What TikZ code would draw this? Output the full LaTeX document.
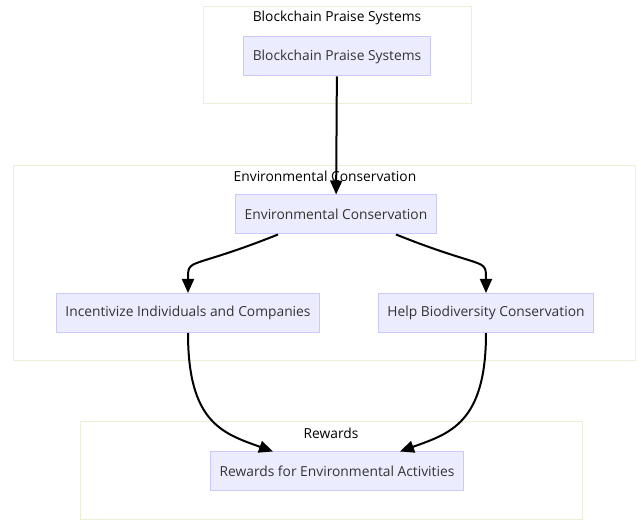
\documentclass[tikz,border=0pt]{standalone}
\usepackage{fontspec}
\setmainfont{Open Sans}
\usetikzlibrary{arrows.meta}
\definecolor{boxfill}{HTML}{ECECFF}
\definecolor{boxline}{HTML}{C9C9FA}
\definecolor{grpline}{HTML}{EEEED6}
\definecolor{txt}{HTML}{333333}
\tikzset{
  box/.style={draw=boxline, fill=boxfill, line width=1pt, text=txt,
    minimum height=39pt, inner xsep=9pt, font=\fontsize{13.8pt}{16pt}\selectfont},
  group/.style={draw=grpline, fill=white, line width=1pt},
  grouplabel/.style={text=black, font=\fontsize{13.8pt}{16pt}\selectfont},
  flow/.style={->, line width=2pt, >={Triangle[length=14pt,width=12pt]}}
}
\begin{document}
\begin{tikzpicture}[x=1pt,y=-1pt]
            \useasboundingbox (0,0) rectangle (641,521);
            % groups
            \node (g1) [group, minimum width=268pt, minimum height=97pt] at (337,55.5) {};
            \node (g2) [group, minimum width=622pt, minimum height=195pt] at (324,263.5) {};
            \node (g3) [group, minimum width=502pt, minimum height=98pt] at (331,471) {};
            \node (l1) [grouplabel] at (337,18) {Blockchain Praise Systems};
            \node (l2) [grouplabel] at (325,176) {Environmental Conservation};
            \node (l3) [grouplabel] at (331,433) {Rewards};

            % steps
            \node (bps) [box] at (337,56.5) {Blockchain Praise Systems};
            \node (ec) [box] at (336,214.5) {Environmental Conservation};
            \node (iic) [box] at (188,313) {Incentivize Individuals and Companies};
            \node (hbc) [box] at (486,313) {Help Biodiversity Conservation};
            \node (rew) [box] at (337,471.5) {Rewards for Environmental Activities};

            \path[flow] (bps) edge (ec);
            \draw[flow] ([xshift=-58pt]ec.south) .. controls +(-90,36) and +(0,-36) .. (iic.north);
            \draw[flow] ([xshift=60pt]ec.south) .. controls +(90,36) and +(0,-36) .. (hbc.north);
            \draw[flow] (iic.south) .. controls +(0,90) and +(-50,-18) .. ([xshift=-64pt]rew.north);
            \draw[flow] (hbc.south) .. controls +(0,90) and +(50,-18) .. ([xshift=63pt]rew.north);

        \end{tikzpicture}
\end{document}
